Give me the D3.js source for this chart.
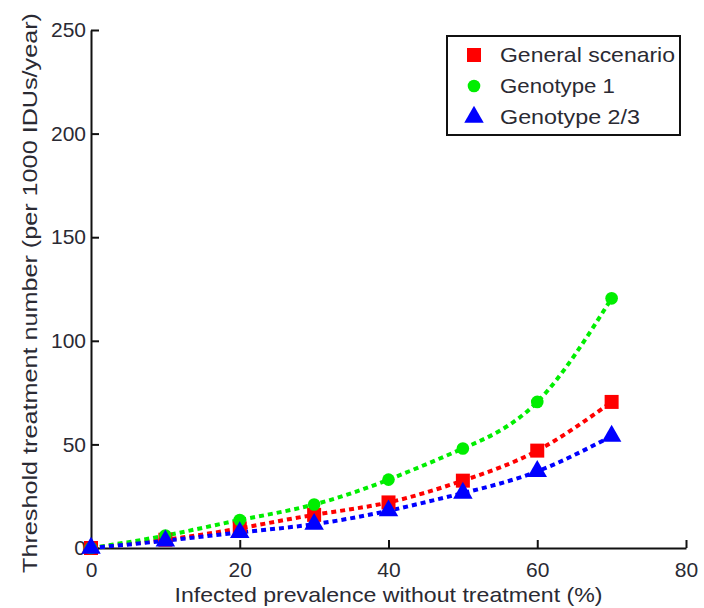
<!DOCTYPE html>
<html>
<head>
<meta charset="utf-8">
<script src="https://cdn.jsdelivr.net/npm/d3@7"></script>
<style>
  body { margin: 0; background: #fff; }
  text { font-family: "Liberation Sans", Arial, sans-serif; fill: #2a2a33; }
</style>
</head>
<body>
<svg width="704" height="608"></svg>
<script>
// data
var prevalence = [0, 10, 20, 30, 40, 50, 60, 70];
var generalScenario = [0, 4, 9.5, 16, 22, 32.5, 47, 70.5];
var genotype1 = [0, 6, 13.5, 21, 33, 48, 70.5, 120.5];
var genotype23 = [0, 3.5, 7.5, 11.5, 18, 26.5, 37, 54];
var xTicks = [0, 20, 40, 60, 80];
var yTicks = [0, 50, 100, 150, 200, 250];
var seriesNames = ['General scenario', 'Genotype 1', 'Genotype 2/3'];
var seriesColors = ['#ff0000', '#00ee00', '#0000ff'];

var svg = d3.select('svg');
var padding = {t: 30, r: 18, b: 60, l: 91};
var plotW = 686 - padding.l;
var plotH = 548 - padding.t;
var fontSize = '21px';

var xScale = d3.scaleLinear().domain([0, 80]).range([0, plotW]);
var yScale = d3.scaleLinear().domain([0, 250]).range([plotH, 0]);

var g = svg.append('g')
    .attr('transform', 'translate(' + [padding.l, padding.t] + ')');

// axes, ticks point inward
var xAxis = g.append('g')
    .attr('transform', 'translate(0,' + plotH + ')')
    .call(d3.axisBottom(xScale).tickValues(xTicks).tickSize(-8).tickSizeOuter(0).tickPadding(22));
var yAxis = g.append('g')
    .call(d3.axisLeft(yScale).tickValues(yTicks).tickSize(-8).tickSizeOuter(0).tickPadding(5));

[xAxis, yAxis].forEach(function(a) {
    a.select('.domain').attr('stroke', '#111').attr('stroke-width', 2);
    a.selectAll('.tick line').attr('stroke', '#111').attr('stroke-width', 2);
    a.selectAll('.tick text')
        .style('font-size', fontSize)
        .style('font-family', '"Liberation Sans", Arial, sans-serif')
        .attr('fill', '#2a2a33');
});
xAxis.selectAll('.tick text').attr('dy', '0.35em');

// axis titles
g.append('text')
    .attr('x', plotW / 2)
    .attr('y', plotH + 54)
    .attr('text-anchor', 'middle')
    .attr('textLength', 428)
    .attr('lengthAdjust', 'spacingAndGlyphs')
    .style('font-size', fontSize)
    .text('Infected prevalence without treatment (%)');
g.append('text')
    .attr('transform', 'rotate(-90)')
    .attr('x', -263)
    .attr('y', -54)
    .attr('text-anchor', 'middle')
    .attr('textLength', 560)
    .attr('lengthAdjust', 'spacingAndGlyphs')
    .style('font-size', fontSize)
    .text('Threshold treatment number (per 1000 IDUs/year)');

var allSeries = [generalScenario, genotype1, genotype23];
var symbols = [d3.symbolSquare, d3.symbolCircle, d3.symbolTriangle];
var symbolSizes = [196, 125, 165];

var line = d3.line()
    .x(function(d, i) { return xScale(prevalence[i]); })
    .y(function(d) { return yScale(d); })
    .curve(d3.curveNatural);

// dotted fitted curves
allSeries.forEach(function(s, k) {
    g.append('path')
        .datum(s)
        .attr('d', line)
        .attr('fill', 'none')
        .attr('stroke', seriesColors[k])
        .attr('stroke-width', 4)
        .attr('stroke-dasharray', '5,4');
});

// markers
allSeries.forEach(function(s, k) {
    g.selectAll('.pt' + k)
        .data(s)
        .enter().append('path')
        .attr('class', 'pt' + k)
        .attr('d', d3.symbol().type(symbols[k]).size(symbolSizes[k]))
        .attr('transform', function(d, i) {
            return 'translate(' + [xScale(prevalence[i]), yScale(d)] + ')';
        })
        .attr('fill', seriesColors[k]);
});

// legend
var legendWidths = [175, 115, 140];
var legend = svg.append('g').attr('transform', 'translate(447,36)');
legend.append('rect')
    .attr('width', 233)
    .attr('height', 99)
    .attr('fill', '#fff')
    .attr('stroke', '#111')
    .attr('stroke-width', 2);
seriesNames.forEach(function(name, k) {
    var row = legend.append('g').attr('transform', 'translate(0,' + (19 + k * 31) + ')');
    row.append('path')
        .attr('d', d3.symbol().type(symbols[k]).size(symbolSizes[k]))
        .attr('transform', 'translate(27,0)')
        .attr('fill', seriesColors[k]);
    row.append('text')
        .attr('x', 53)
        .attr('y', 0)
        .attr('dy', '0.35em')
        .attr('textLength', legendWidths[k])
        .attr('lengthAdjust', 'spacingAndGlyphs')
        .style('font-size', fontSize)
        .text(name);
});
</script>
</body>
</html>
